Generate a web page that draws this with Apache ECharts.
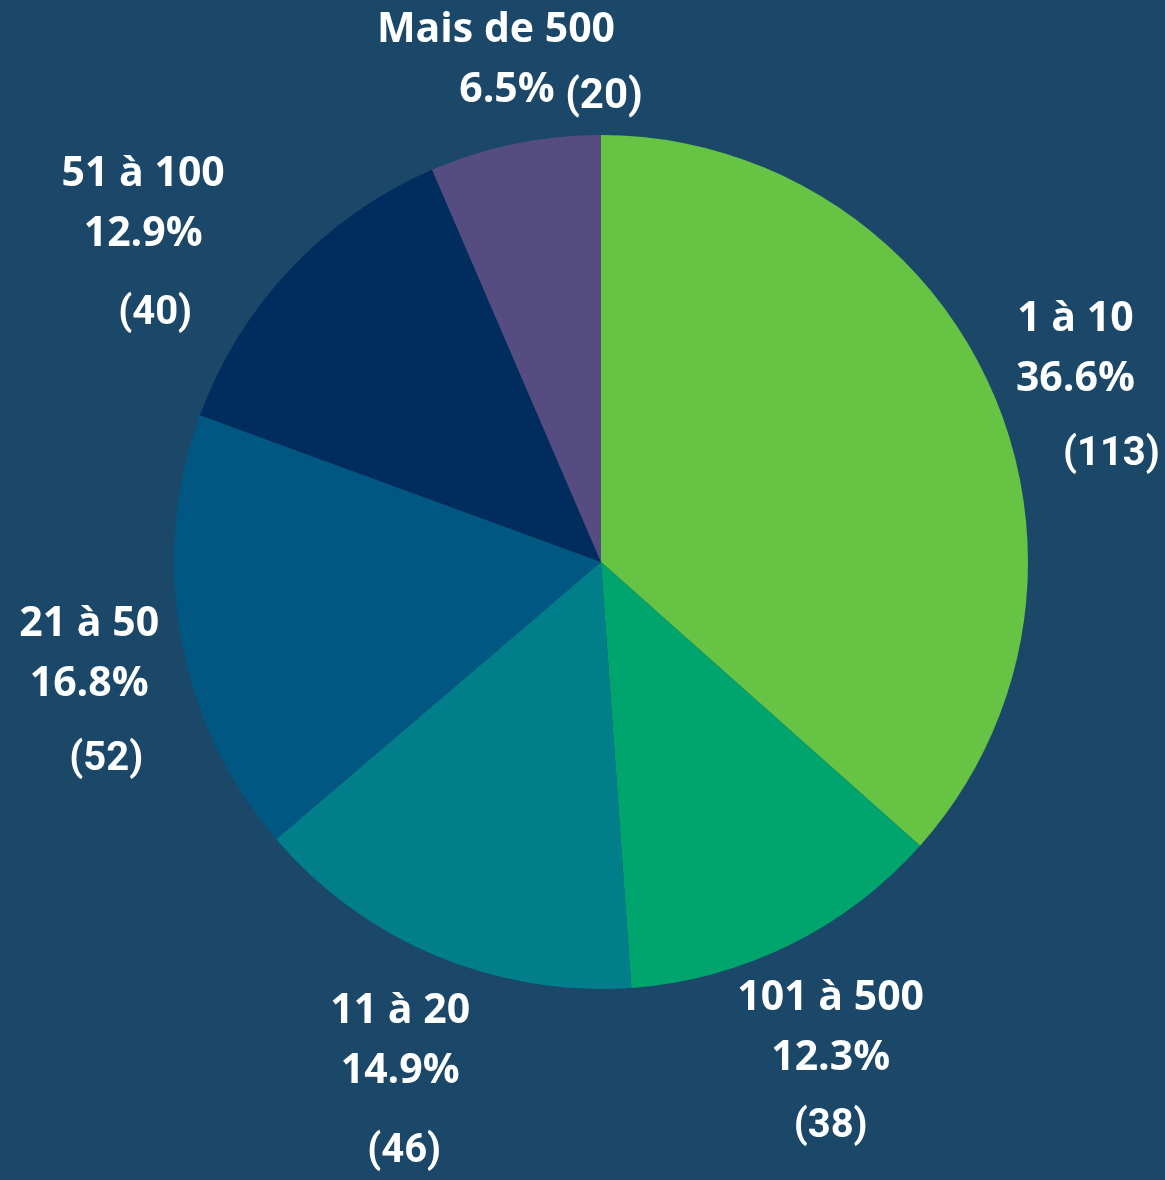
<!DOCTYPE html>
<html>
<head>
<meta charset="utf-8">
<title>Pie</title>
<script src="https://cdn.jsdelivr.net/npm/echarts@6/dist/echarts.min.js"></script>
<style>
    html, body { margin: 0; padding: 0; background: #1b4769; }
    #main { width: 1165px; height: 1180px; }
</style>
</head>
<body>
<div id="main"></div>
<script>
// dados
var categories = ['1 à 10', '101 à 500', '11 à 20', '21 à 50', '51 à 100', 'Mais de 500'];
var counts = [113, 38, 46, 52, 40, 20];
var colors = ['#66c343', '#00a46d', '#007f8b', '#005882', '#002d5d', '#554c82'];

var total = 0;
for (var i = 0; i < counts.length; i++) {
    total += counts[i];
}

// pequenos ajustes de posição dos rótulos
var labelShiftX = [0, 0, 0, 0, -80, 0];
var labelShiftY = [0, 0, 0, 0, 0, 8];
var countPad = [72, 0, 8, 34, 24, 0];
var countLine = [92, 76, 100, 92, 98, 60];

var cx = 601, cy = 562, r = 427, labelDist = 520;

var data = [];
for (var i = 0; i < categories.length; i++) {
    var item = {
        name: categories[i],
        value: counts[i],
        itemStyle: { color: colors[i] },
        label: { rich: { c: { padding: [0, 0, 0, countPad[i]], lineHeight: countLine[i] } } }
    };
    if (i === categories.length - 1) {
        item.label.rich.p = { padding: [0, 0, 0, 110] };
    }
    data.push(item);
}

function pct(v) {
    return (v / total * 100).toFixed(1) + '%';
}

var myChart = echarts.init(document.getElementById('main'));

var option = {
    backgroundColor: '#1b4769',
    animation: false,
    series: [{
        type: 'pie',
        center: [cx, cy],
        radius: r,
        startAngle: 90,
        clockwise: true,
        data: data,
        itemStyle: { borderWidth: 0 },
        labelLine: { show: false },
        label: {
            show: true,
            position: 'inside',
            color: '#ffffff',
            overflow: 'none',
            formatter: function (p) {
                var i = p.dataIndex;
                if (i === categories.length - 1) {
                    return '{n|' + p.name + '}\n{p|' + pct(p.value) + '}{s|  }{c2|(' + p.value + ')}';
                }
                return '{n|' + p.name + '}\n{p|' + pct(p.value) + '}\n{c|(' + p.value + ')}';
            },
            rich: {
                n: { fontFamily: 'Open Sans', fontWeight: 'bold', fontSize: 41, lineHeight: 60, color: '#fff' },
                p: { fontFamily: 'Open Sans', fontWeight: 'bold', fontSize: 41, lineHeight: 60, color: '#fff' },
                s: { fontFamily: 'Open Sans', fontSize: 20, lineHeight: 60 },
                c: { fontFamily: 'Roboto', fontWeight: 'bold', fontSize: 40, lineHeight: 92, color: '#fff' },
                c2: { fontFamily: 'Roboto', fontWeight: 'bold', fontSize: 42, lineHeight: 60, color: '#fff', padding: [14, 0, 0, 0] }
            }
        },
        labelLayout: function (params) {
            var i = params.dataIndex;
            var before = 0;
            for (var j = 0; j < i; j++) {
                before += counts[j];
            }
            var mid = (before + counts[i] / 2) / total * 2 * Math.PI;
            var x = cx + labelDist * Math.sin(mid) + labelShiftX[i];
            var y = cy - labelDist * Math.cos(mid) + labelShiftY[i];
            return { x: x, y: y - 60, align: 'center', verticalAlign: 'top' };
        }
    }]
};

myChart.setOption(option);
</script>
</body>
</html>
